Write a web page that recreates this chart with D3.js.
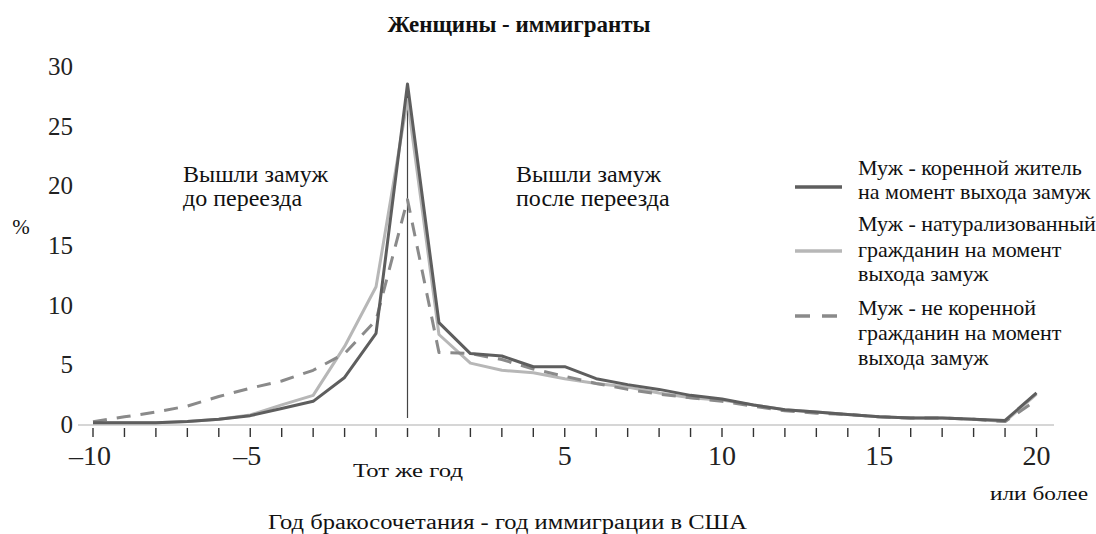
<!DOCTYPE html>
<html><head><meta charset="utf-8">
<script src="https://cdn.jsdelivr.net/npm/d3@7"></script>
<style>body{margin:0;background:#fff}svg{display:block}text{font-family:"Liberation Serif","DejaVu Serif",serif;fill:#111}</style>
</head><body><svg id="c" width="1096" height="534"></svg>
<script>
const years = d3.range(-10, 21);
const nativeHusband = [0.1,0.1,0.1,0.2,0.4,0.7,1.3,1.9,3.9,7.6,28.5,8.5,5.9,5.7,4.8,4.8,3.8,3.3,2.9,2.4,2.1,1.6,1.2,1.0,0.8,0.6,0.5,0.5,0.4,0.3,2.6];
const naturalizedHusband = [0.1,0.1,0.1,0.2,0.4,0.75,1.6,2.4,6.5,11.5,27.2,7.5,5.1,4.5,4.3,3.8,3.4,3.1,2.6,2.2,2.0,1.6,1.2,1.0,0.8,0.6,0.5,0.5,0.4,0.2,2.5];
const nonCitizenHusband = [0.2,0.6,1.0,1.5,2.3,3.0,3.6,4.5,5.9,8.7,18.8,6.0,5.9,5.4,4.6,4.0,3.4,2.9,2.5,2.2,1.9,1.5,1.1,0.9,0.8,0.6,0.5,0.5,0.4,0.2,2.0];
const yTicks = [0,5,10,15,20,25,30];
const xTickLabels = [[-10,"\u201310"],[-5,"\u20135"],[5,"5"],[10,"10"],[15,"15"],[20,"20"]];
const legendLines = [
  ["Муж - коренной житель","на момент выхода замуж"],
  ["Муж - натурализованный","гражданин на момент","выхода замуж"],
  ["Муж - не коренной","гражданин на момент","выхода замуж"]
];
const title = "Женщины - иммигранты";
const xTitle = "Год бракосочетания - год иммиграции в США";

const svg = d3.select("#c");
const x = d3.scaleLinear().domain([-10,20]).range([93,1036.5]);
const y = d3.scaleLinear().domain([0,30]).range([424,66]);

function fit(sel, w){ sel.attr("textLength", w).attr("lengthAdjust","spacingAndGlyphs"); return sel; }

svg.append("text").attr("x",519).attr("y",32).attr("text-anchor","middle")
  .style("font-weight","bold").style("font-size","23px").text(title);

// baseline
svg.append("line").attr("x1",78).attr("x2",1054).attr("y1",y(0)+1).attr("y2",y(0)+1)
  .attr("stroke","#d6d6d6").attr("stroke-width",2);
// ticks
svg.selectAll(".tk").data(years).join("line")
  .attr("x1",d=>x(d)).attr("x2",d=>x(d)).attr("y1",428).attr("y2",437)
  .attr("stroke","#333").attr("stroke-width",1.4);
// y labels
svg.selectAll(".yl").data(yTicks).join("text")
  .attr("x",73).attr("y",d=>y(d)+9).attr("text-anchor","end")
  .style("font-size","25px").style("fill","#222").text(d=>d);
svg.append("text").attr("x",21).attr("y",234).attr("text-anchor","middle").style("font-size","21px").text("%");
// x labels
svg.selectAll(".xl").data(xTickLabels).join("text")
  .attr("x",d=>x(d[0])-(d[0]<0?3:0)).attr("y",465).attr("text-anchor","middle")
  .style("font-size","28px").style("fill","#222").text(d=>d[1]);
fit(svg.append("text").attr("x",353).attr("y",477).style("font-size","19px").text("Тот же год"),110);
fit(svg.append("text").attr("x",990).attr("y",500).style("font-size","19px").text("или более"),98);
fit(svg.append("text").attr("x",268).attr("y",529).style("font-size","20px").text(xTitle),479);

// vertical line at 0
svg.append("line").attr("x1",x(0)).attr("x2",x(0)).attr("y1",86).attr("y2",418)
  .attr("stroke","#444").attr("stroke-width",1.2);

// annotations
svg.append("text").attr("x",183).attr("y",182).style("font-size","24px").text("Вышли замуж");
svg.append("text").attr("x",183).attr("y",206).style("font-size","24px").text("до переезда");
svg.append("text").attr("x",516).attr("y",182).style("font-size","24px").text("Вышли замуж");
svg.append("text").attr("x",516).attr("y",206).style("font-size","24px").text("после переезда");

const line = d3.line().x((d,i)=>x(years[i])).y(d=>y(d));
const series = [
  {v:naturalizedHusband, c:"#b7b7b7", dash:null},
  {v:nonCitizenHusband, c:"#8a8a8a", dash:"14,10"},
  {v:nativeHusband, c:"#5e5e5e", dash:null}
];
series.forEach(s=>{
  svg.append("path").datum(s.v).attr("d",line).attr("fill","none")
    .attr("stroke",s.c).attr("stroke-width",3).attr("stroke-linejoin","round")
    .attr("stroke-dasharray",s.dash);
});

// legend
const leg = [
  {c:"#5e5e5e",dash:null,ly:187,ty:[175,199]},
  {c:"#b7b7b7",dash:null,ly:251,ty:[231,257,281]},
  {c:"#8a8a8a",dash:"15,12",ly:316,ty:[315,340,365]}
];
leg.forEach((l,i)=>{
  svg.append("line").attr("x1",795).attr("x2",842).attr("y1",l.ly).attr("y2",l.ly)
    .attr("stroke",l.c).attr("stroke-width",3.5).attr("stroke-dasharray",l.dash);
  legendLines[i].forEach((t,j)=>{
    svg.append("text").attr("x",858).attr("y",l.ty[j]).style("font-size","22px").text(t);
  });
});
</script></body></html>
